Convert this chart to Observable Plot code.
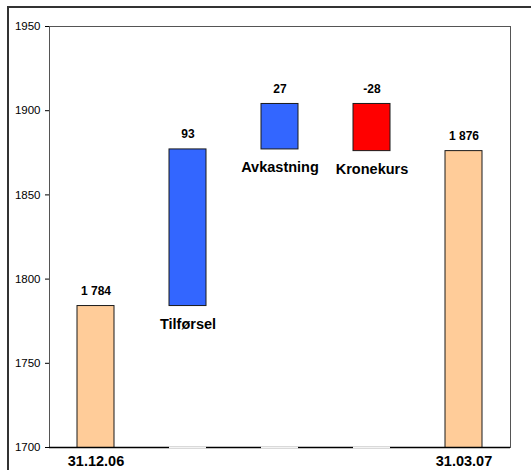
<!DOCTYPE html>
<html>
<head>
<meta charset="utf-8">
<script src="https://cdn.jsdelivr.net/npm/d3@7"></script>
<script src="https://cdn.jsdelivr.net/npm/@observablehq/plot@0.6"></script>
<style>
  html, body { margin: 0; padding: 0; background: #fff; }
  #wrap { position: relative; width: 531px; height: 470px; overflow: hidden; }
  #outer { position: absolute; left: 7px; top: 6px; width: 600px; height: 600px;
           border-left: 2px solid #333; border-top: 2px solid #333; pointer-events: none; }
  #chart { position: absolute; left: 0; top: 0; }
</style>
</head>
<body>
<div id="wrap"><div id="chart"></div><div id="outer"></div></div>
<script>
const categories = ["31.12.06", "Tilførsel", "Avkastning", "Kronekurs", "31.03.07"];
const values = [1784, 93, 27, -28, 1876];
const kinds = ["total", "change", "change", "change", "total"];
const valueLabels = ["1 784", "93", "27", "-28", "1 876"];
const yTicks = [1700, 1750, 1800, 1850, 1900, 1950];

let running = 0;
const rows = categories.map((c, i) => {
  let lo, hi;
  if (kinds[i] === "total") { lo = 0; hi = values[i]; running = values[i]; }
  else { const start = running; running += values[i]; lo = Math.min(start, running); hi = Math.max(start, running); }
  const color = kinds[i] === "total" ? "#FFCC99" : (values[i] >= 0 ? "#3366FF" : "#FF0000");
  return { cat: c, lo, hi, color, label: valueLabels[i], kind: kinds[i] };
});
const changes = rows.filter(d => d.kind === "change");
const yMin = yTicks[0], yMax = yTicks[yTicks.length - 1];

const font = "'Liberation Sans', Arial, sans-serif";
const chart = Plot.plot({
  width: 531,
  height: 470,
  marginLeft: 49,
  marginRight: 21,
  marginTop: 26,
  marginBottom: 23,
  style: { fontFamily: font, background: "transparent", overflow: "visible" },
  x: { domain: categories, paddingInner: 0.593, paddingOuter: 0.2965, axis: null },
  y: { domain: [yMin, yMax], axis: null },
  marks: [
    Plot.frame({ stroke: "#555", strokeWidth: 1 }),
    Plot.barY(rows, { x: "cat", y1: "lo", y2: "hi", fill: "color", stroke: "#1a1a1a", strokeWidth: 1, clip: true }),
    Plot.ruleY([yMin], { stroke: "#000", strokeWidth: 1.5 }),
    Plot.tickY(changes, { x: "cat", y: () => yMin, stroke: "#f3f3f3", strokeWidth: 2 }),
    Plot.axisY({ ticks: yTicks, tickSize: 4, tickPadding: 5, fontSize: 11.5, tickFormat: d => String(d), stroke: "#000", fill: "#000", label: null }),
    Plot.axisX({ ticks: [categories[0], categories[categories.length - 1]], tickSize: 0, tickPadding: 8, fontSize: 14.5, fontWeight: "bold", fill: "#000", label: null }),
    Plot.text(rows, { x: "cat", y: "hi", text: "label", dy: -15, lineAnchor: "middle", fontSize: 12, fontWeight: "bold", fill: "#000" }),
    Plot.text(changes, { x: "cat", y: "lo", text: "cat", dy: 18, lineAnchor: "middle", fontSize: 14.5, fontWeight: "bold", fill: "#000" })
  ]
});
document.getElementById("chart").appendChild(chart);
</script>
</body>
</html>
